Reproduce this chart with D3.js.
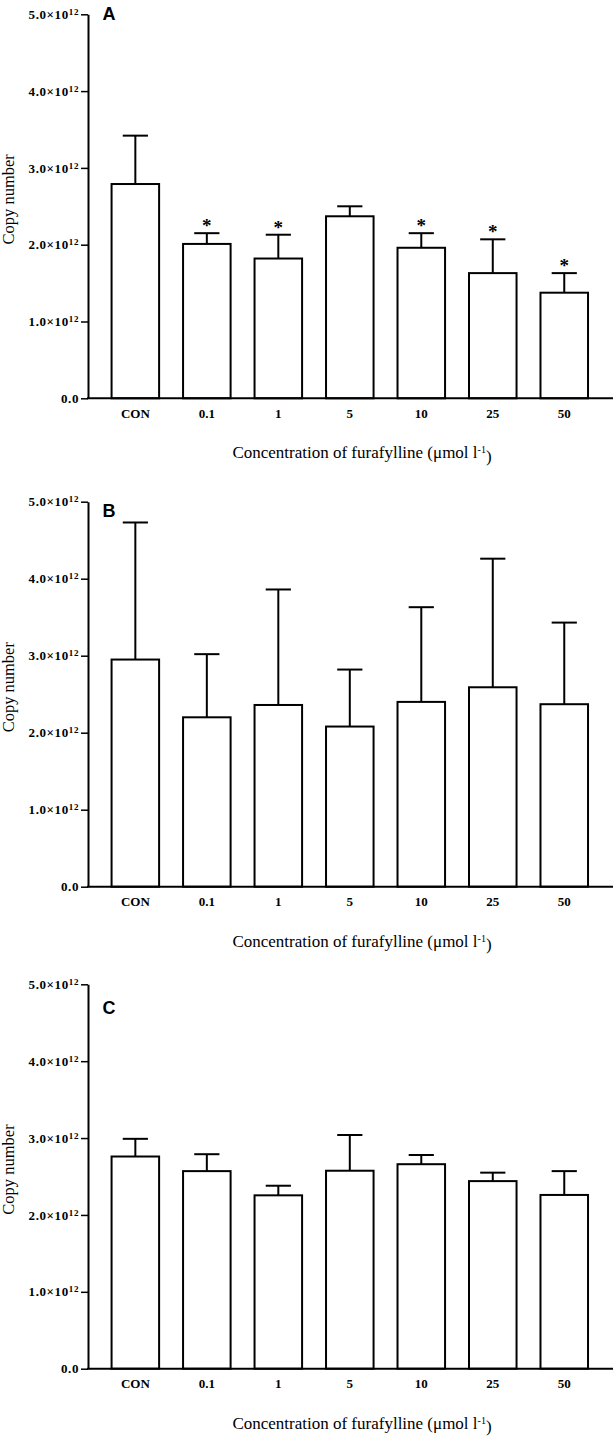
<!DOCTYPE html>
<html>
<head>
<meta charset="utf-8">
<script src="https://cdn.jsdelivr.net/npm/d3@7/dist/d3.min.js"></script>
<style>
  html, body { margin: 0; padding: 0; background: #fff; }
  svg { display: block; }
</style>
</head>
<body>
<script>
// ---------- DATA ----------
const categories = ["CON", "0.1", "1", "5", "10", "25", "50"];
const panelLetters = ["A", "B", "C"];
const yTickValues = [0, 1e12, 2e12, 3e12, 4e12, 5e12];
const yTickMantissa = ["0.0", "1.0", "2.0", "3.0", "4.0", "5.0"];

// Panel A
const meanA = [2.79e12, 2.01e12, 1.82e12, 2.37e12, 1.96e12, 1.63e12, 1.375e12];
const errA  = [0.63e12, 0.14e12, 0.31e12, 0.13e12, 0.19e12, 0.44e12, 0.255e12];
const sigA  = [false, true, true, false, true, true, true];
// Panel B
const meanB = [2.95e12, 2.20e12, 2.36e12, 2.08e12, 2.40e12, 2.59e12, 2.37e12];
const errB  = [1.78e12, 0.82e12, 1.50e12, 0.74e12, 1.23e12, 1.67e12, 1.06e12];
const sigB  = [false, false, false, false, false, false, false];
// Panel C
const meanC = [2.76e12, 2.57e12, 2.255e12, 2.575e12, 2.66e12, 2.44e12, 2.26e12];
const errC  = [0.23e12, 0.22e12, 0.125e12, 0.465e12, 0.12e12, 0.11e12, 0.31e12];
const sigC  = [false, false, false, false, false, false, false];

const yLabel = "Copy number";
const xTitle = "Concentration of furafylline (\u03BCmol l";
const xTitleSup = "-1";

// ---------- LAYOUT ----------
const W = 614, H = 1436;
const axisX = 88;
const axisRight = 613;
const bandRange = [99.6, 600];
const panelGeom = [
  { top: 14.3,  base: 398.3,  letterY: 20 },
  { top: 501.7, base: 886.7,  letterY: 516.7 },
  { top: 984.3, base: 1368.7, letterY: 1014 }
];
const panels = [
  { letter: panelLetters[0], mean: meanA, err: errA, sig: sigA },
  { letter: panelLetters[1], mean: meanB, err: errB, sig: sigB },
  { letter: panelLetters[2], mean: meanC, err: errC, sig: sigC }
];

const svg = d3.select("body").append("svg")
  .attr("width", W).attr("height", H)
  .attr("viewBox", `0 0 ${W} ${H}`);

const x = d3.scaleBand().domain(categories).range(bandRange)
  .paddingInner(0.335).paddingOuter(0.1675);

const serif = "'Liberation Serif', 'Times New Roman', serif";

panels.forEach((p, pi) => {
  const g = panelGeom[pi];
  const y = d3.scaleLinear().domain([0, 5e12]).range([g.base, g.top]);
  const data = categories.map((c, i) => ({ c, m: p.mean[i], e: p.err[i], s: p.sig[i] }));
  const G = svg.append("g");

  // bars
  G.selectAll("rect.bar").data(data).join("rect")
    .attr("class", "bar")
    .attr("x", d => x(d.c))
    .attr("y", d => y(d.m))
    .attr("width", x.bandwidth())
    .attr("height", d => g.base - y(d.m))
    .attr("fill", "#fff")
    .attr("stroke", "#000")
    .attr("stroke-width", 2);

  // error bars
  const capW = x.bandwidth() * 0.53;
  G.selectAll("line.ev").data(data).join("line")
    .attr("class", "ev")
    .attr("x1", d => x(d.c) + x.bandwidth() / 2)
    .attr("x2", d => x(d.c) + x.bandwidth() / 2)
    .attr("y1", d => y(d.m))
    .attr("y2", d => y(d.m + d.e))
    .attr("stroke", "#000").attr("stroke-width", 2);
  G.selectAll("line.cap").data(data).join("line")
    .attr("class", "cap")
    .attr("x1", d => x(d.c) + x.bandwidth() / 2 - capW / 2)
    .attr("x2", d => x(d.c) + x.bandwidth() / 2 + capW / 2)
    .attr("y1", d => y(d.m + d.e))
    .attr("y2", d => y(d.m + d.e))
    .attr("stroke", "#000").attr("stroke-width", 2);

  // significance asterisks
  G.selectAll("text.sig").data(data.filter(d => d.s)).join("text")
    .attr("class", "sig")
    .attr("x", d => x(d.c) + x.bandwidth() / 2)
    .attr("y", d => y(d.m + d.e) - 1)
    .attr("text-anchor", "middle")
    .attr("font-family", serif)
    .attr("font-weight", "bold")
    .attr("font-size", 19)
    .attr("fill", "#000")
    .text("*");

  // y axis
  const yAxis = d3.axisLeft(y).tickValues(yTickValues).tickSize(7).tickSizeOuter(0).tickPadding(2).tickFormat("");
  const ya = G.append("g").attr("transform", `translate(${axisX},0)`).call(yAxis);
  ya.select(".domain").attr("stroke-width", 2);
  ya.selectAll(".tick line").attr("stroke-width", 1.5);
  ya.selectAll(".tick text").each(function(d) {
    const t = d3.select(this);
    t.attr("font-family", serif).attr("font-weight", "bold").attr("font-size", 13)
      .attr("letter-spacing", "0.6px").attr("fill", "#000");
    const k = yTickValues.indexOf(d);
    if (d === 0) {
      t.append("tspan").text(yTickMantissa[k]);
    } else {
      t.append("tspan").text(yTickMantissa[k] + "\u00D710");
      t.append("tspan").attr("dy", "-0.45em").attr("font-size", 9).text("12");
    }
  });

  // x axis
  const xAxis = d3.axisBottom(x).tickSize(0).tickPadding(10);
  const xa = G.append("g").attr("transform", `translate(0,${g.base})`).call(xAxis);
  xa.select(".domain").remove();
  xa.selectAll(".tick text")
    .attr("font-family", serif).attr("font-weight", "bold").attr("font-size", 13).attr("fill", "#000");
  G.append("line")
    .attr("x1", axisX - 1).attr("x2", axisRight)
    .attr("y1", g.base).attr("y2", g.base)
    .attr("stroke", "#000").attr("stroke-width", 2);

  // y label
  G.append("text")
    .attr("transform", `translate(14,${(g.top + g.base) / 2 - 7}) rotate(-90)`)
    .attr("text-anchor", "middle")
    .attr("font-family", serif)
    .attr("font-size", 16.5)
    .attr("fill", "#000")
    .text(yLabel);

  // x title
  const xt = G.append("text")
    .attr("x", 362).attr("y", g.base + 60)
    .attr("text-anchor", "middle")
    .attr("font-family", serif)
    .attr("font-size", 17)
    .attr("fill", "#000");
  xt.append("tspan").text(xTitle);
  xt.append("tspan").attr("dy", "-0.5em").attr("font-size", 10).text(xTitleSup);
  xt.append("tspan").attr("dy", "0.5em").text(")");

  // panel letter
  G.append("text")
    .attr("x", 102.5).attr("y", g.letterY)
    .attr("font-family", "'Liberation Sans', Arial, sans-serif")
    .attr("font-weight", "bold")
    .attr("font-size", 18)
    .attr("fill", "#000")
    .text(p.letter);
});
</script>
</body>
</html>
